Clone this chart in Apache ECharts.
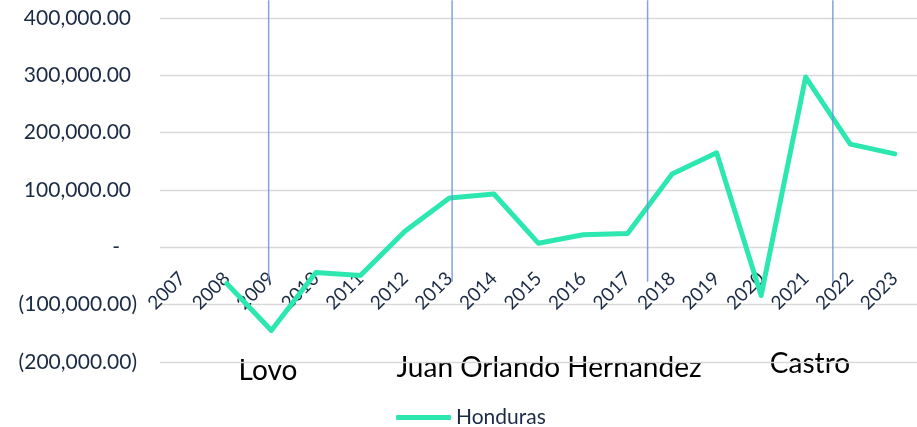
<!DOCTYPE html>
<html>
<head>
<meta charset="utf-8">
<script src="https://cdn.jsdelivr.net/npm/echarts@6/dist/echarts.min.js"></script>
<style>
    html, body { margin: 0; padding: 0; background: #fff; }
    #chart { width: 917px; height: 427px; }
</style>
</head>
<body>
<div id="chart"></div>
<script>
// categories and values
const years = ['2007', '2008', '2009', '2010', '2011', '2012', '2013', '2014', '2015',
    '2016', '2017', '2018', '2019', '2020', '2021', '2022', '2023'];
const honduras = [null, -63000, -145000, -44000, -49000, 28000, 86000, 93000, 7000,
    22000, 24000, 128000, 165000, -84000, 297000, 180000, 163000];

// vertical separators, in category-index units, and their value span
const dividerPos = [1.94, 6.06, 10.45, 14.61];
const dividerTop = 431000;
const dividerBottom = -60000;

// y axis ticks
const yMin = -200000;
const yMax = 400000;
const yStep = 100000;

const periodLabels = [
    { text: 'Lovo', x: 268, y: 371 },
    { text: 'Juan Orlando Hernandez', x: 549, y: 368 },
    { text: 'Castro', x: 810, y: 364 }
];

const textColor = '#1c2b45';
const gridColor = '#d9d9d9';
const fontName = 'Lato, "Open Sans", sans-serif';

// grid geometry; the category labels sit on the zero line
const gridTop = 18;
const gridBottom = 65;
const plotHeight = 427 - gridTop - gridBottom;
const zeroOffset = -plotHeight * (0 - yMin) / (yMax - yMin);

function fmtMoney(v) {
    return Math.abs(v).toLocaleString('en-US', { minimumFractionDigits: 2, maximumFractionDigits: 2 });
}

let chart = echarts.init(document.getElementById('chart'));

let option = {
    animation: false,
    textStyle: { fontFamily: fontName },
    grid: { left: 160, right: -2, top: gridTop, bottom: gridBottom, containLabel: false },
    legend: {
        data: ['Honduras'],
        left: 391,
        top: 402,
        icon: 'roundRect',
        itemWidth: 55,
        itemHeight: 5,
        textStyle: { fontSize: 21, color: textColor, fontFamily: fontName }
    },
    xAxis: [
        {
            type: 'category',
            data: years,
            boundaryGap: true,
            position: 'bottom',
            offset: zeroOffset,
            axisLine: { show: false, onZero: false },
            axisTick: { show: false },
            splitLine: { show: false },
            axisLabel: {
                rotate: 45,
                margin: 28,
                interval: 0,
                fontSize: 19,
                color: textColor,
                fontFamily: fontName
            }
        },
        {
            type: 'value',
            min: -0.5,
            max: 16.5,
            show: false,
            axisLine: { onZero: false }
        }
    ],
    yAxis: {
        type: 'value',
        min: yMin,
        max: yMax,
        interval: yStep,
        axisLine: { show: false, onZero: false },
        axisTick: { show: false },
        splitLine: { lineStyle: { color: gridColor, width: 1.3 } },
        axisLabel: {
            margin: 23,
            fontSize: 21,
            color: textColor,
            fontFamily: fontName,
            formatter: function (v) {
                if (v === 0) return '{z|-}';
                if (v < 0) return '(' + fmtMoney(v) + ')';
                return '{p|' + fmtMoney(v) + '}';
            },
            rich: {
                p: { fontSize: 21, color: textColor, fontFamily: fontName, padding: [0, 6, 0, 0] },
                z: { fontSize: 21, color: textColor, fontFamily: fontName, padding: [0, 17, 0, 0] }
            }
        }
    },
    series: [
        {
            name: 'Honduras',
            type: 'line',
            data: honduras,
            symbol: 'none',
            lineStyle: { width: 5, color: '#2ce8b0', cap: 'round', join: 'round' },
            itemStyle: { color: '#2ce8b0' },
            z: 2
        },
        {
            type: 'custom',
            xAxisIndex: 1,
            data: dividerPos.map(p => [p, dividerTop, dividerBottom]),
            clip: false,
            silent: true,
            z: 3,
            renderItem: function (params, api) {
                let a = api.coord([api.value(0), api.value(1)]);
                let b = api.coord([api.value(0), api.value(2)]);
                return {
                    type: 'line',
                    shape: { x1: a[0], y1: a[1], x2: b[0], y2: b[1] },
                    style: { stroke: '#7092d6', lineWidth: 1.5, opacity: 0.85 }
                };
            }
        }
    ],
    graphic: periodLabels.map(l => ({
        type: 'text',
        x: l.x,
        y: l.y,
        style: {
            text: l.text,
            fill: '#000',
            font: '28px ' + fontName,
            textAlign: 'center',
            textVerticalAlign: 'middle'
        }
    }))
};

chart.setOption(option);
</script>
</body>
</html>
